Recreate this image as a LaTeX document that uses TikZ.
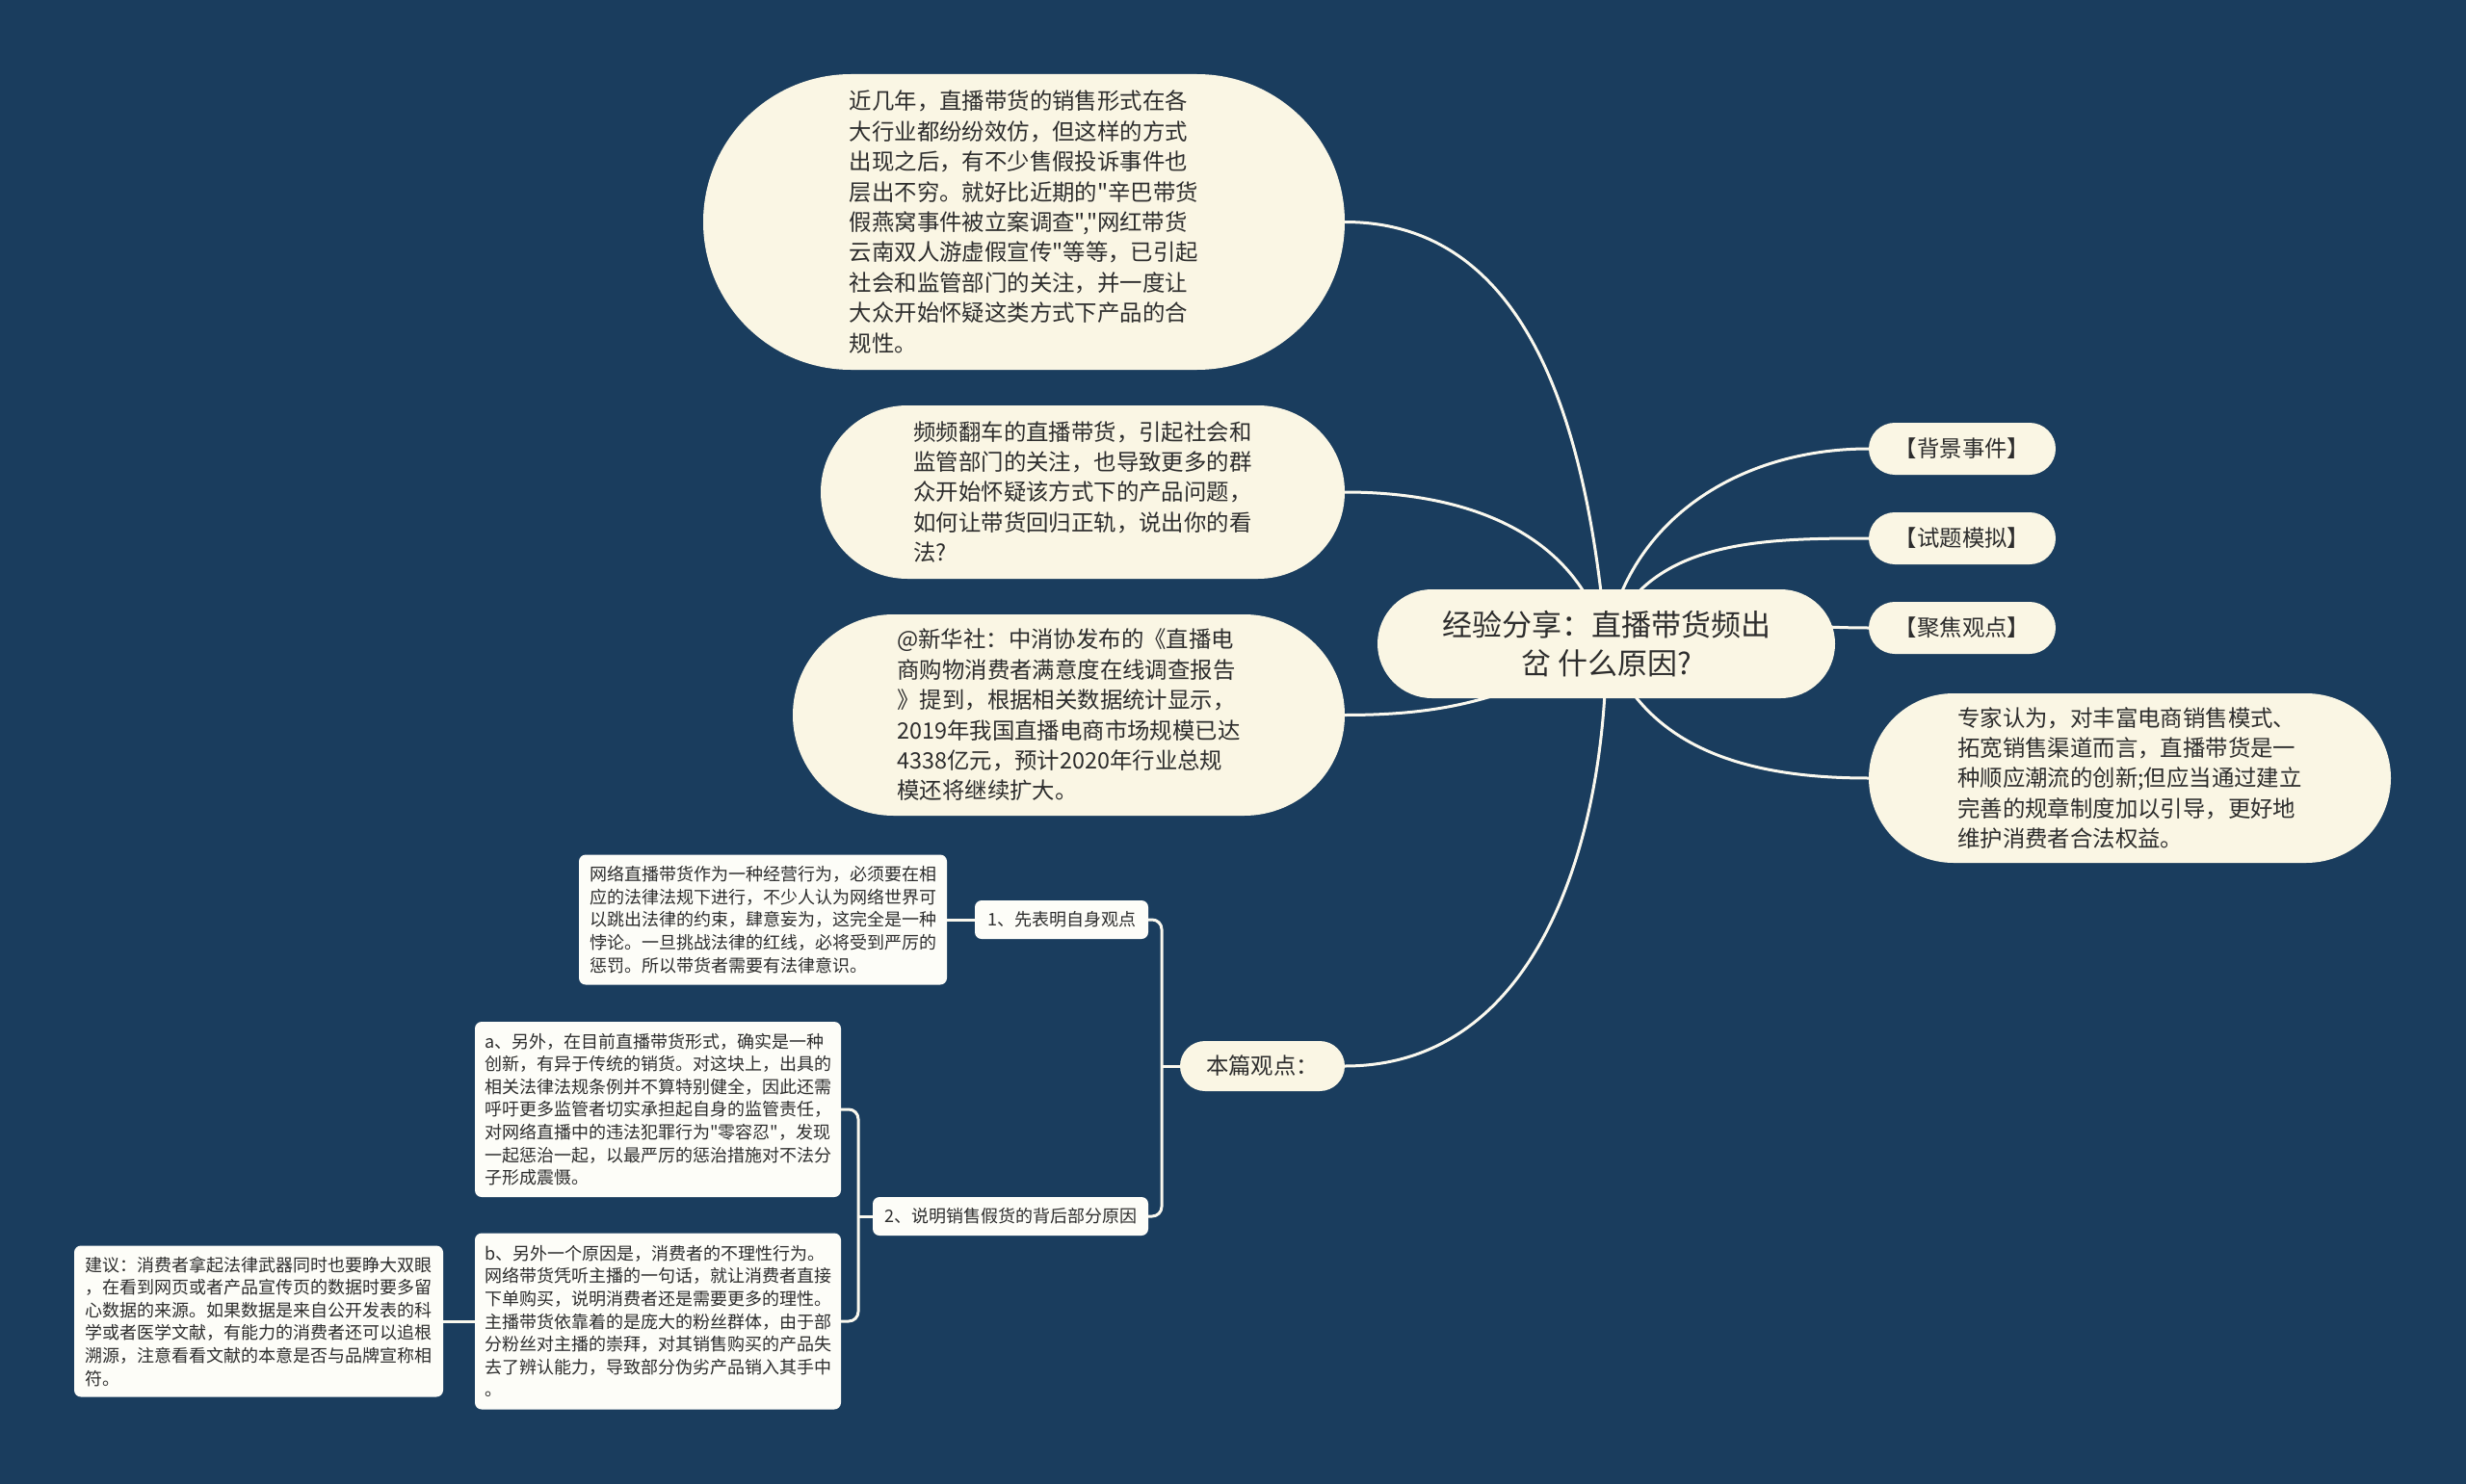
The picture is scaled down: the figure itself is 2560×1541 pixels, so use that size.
\documentclass[tikz,border=0pt]{standalone}
\usepackage{fontspec}
\newfontfamily\cjk{Noto Sans CJK SC}
\usetikzlibrary{shapes.misc}
\definecolor{navy}{RGB}{26,61,94}
\definecolor{cream}{RGB}{250,246,228}
\definecolor{paper}{RGB}{253,253,248}
\definecolor{ink}{RGB}{45,45,45}
\definecolor{wire}{RGB}{250,248,238}
\pgfdeclarelayer{backdrop}
\pgfdeclarelayer{links}
\pgfsetlayers{backdrop,links,main}
\tikzset{
  topic/.style={rounded rectangle,fill=cream,text=ink,inner sep=0pt,align=left,
    font=\cjk\fontsize{23.4}{31.4}\selectfont},
  leaf/.style={rectangle,rounded corners=7pt,fill=paper,text=ink,inner sep=0pt,align=left,
    font=\cjk\fontsize{18}{23.6}\selectfont},
  link/.style={draw=wire,line width=3pt},
}

\begin{document}
\begin{tikzpicture}[x=1pt,y=-1pt]
\begin{pgfonlayer}{backdrop}
\fill[navy] (0,0) rectangle (2560,1541);
\end{pgfonlayer}
\useasboundingbox (0,0) rectangle (2560,1541);

\node[topic,align=center,minimum width=475,minimum height=113,font=\cjk\fontsize{31}{40}\selectfont] (root) at (1667.5,668.5) {经验分享：直播带货频出\\岔 什么原因?};

\node[topic,minimum width=666,minimum height=307] (intro) at (1063,230.5) {近几年，直播带货的销售形式在各\\大行业都纷纷效仿，但这样的方式\\出现之后，有不少售假投诉事件也\\层出不穷。就好比近期的"辛巴带货\\假燕窝事件被立案调查","网红带货\\云南双人游虚假宣传"等等，已引起\\社会和监管部门的关注，并一度让\\大众开始怀疑这类方式下产品的合\\规性。};
\node[topic,minimum width=544,minimum height=180] (question) at (1124,511) {频频翻车的直播带货，引起社会和\\监管部门的关注，也导致更多的群\\众开始怀疑该方式下的产品问题，\\如何让带货回归正轨，说出你的看\\法?};
\node[topic,minimum width=573,minimum height=209] (xinhua) at (1109.5,742.5) {@新华社：中消协发布的《直播电\\商购物消费者满意度在线调查报告\\》提到，根据相关数据统计显示，\\2019年我国直播电商市场规模已达\\4338亿元，预计2020年行业总规\\模还将继续扩大。};

\node[topic,minimum width=194,minimum height=54] (event) at (2037,466) {【背景事件】};
\node[topic,minimum width=194,minimum height=54] (mock) at (2037,559) {【试题模拟】};
\node[topic,minimum width=194,minimum height=54] (focus) at (2037,652) {【聚焦观点】};
\node[topic,minimum width=542,minimum height=176] (expert) at (2211,808) {专家认为，对丰富电商销售模式、\\拓宽销售渠道而言，直播带货是一\\种顺应潮流的创新;但应当通过建立\\完善的规章制度加以引导，更好地\\维护消费者合法权益。};

\node[topic,minimum width=171,minimum height=52] (view) at (1310.5,1107) {本篇观点：};

\node[leaf,minimum width=180,minimum height=40] (one) at (1102,955) {1、先表明自身观点};
\node[leaf,minimum width=382,minimum height=135] (law) at (792,955) {网络直播带货作为一种经营行为，必须要在相\\应的法律法规下进行，不少人认为网络世界可\\以跳出法律的约束，肆意妄为，这完全是一种\\悖论。一旦挑战法律的红线，必将受到严厉的\\惩罚。所以带货者需要有法律意识。};
\node[leaf,minimum width=286,minimum height=40] (two) at (1049,1263) {2、说明销售假货的背后部分原因};
\node[leaf,minimum width=380,minimum height=182] (boxa) at (683,1152) {a、另外，在目前直播带货形式，确实是一种\\创新，有异于传统的销货。对这块上，出具的\\相关法律法规条例并不算特别健全，因此还需\\呼吁更多监管者切实承担起自身的监管责任，\\对网络直播中的违法犯罪行为"零容忍"，发现\\一起惩治一起，以最严厉的惩治措施对不法分\\子形成震慑。};
\node[leaf,minimum width=380,minimum height=183] (boxb) at (683,1372) {b、另外一个原因是，消费者的不理性行为。\\网络带货凭听主播的一句话，就让消费者直接\\下单购买，说明消费者还是需要更多的理性。\\主播带货依靠着的是庞大的粉丝群体，由于部\\分粉丝对主播的崇拜，对其销售购买的产品失\\去了辨认能力，导致部分伪劣产品销入其手中\\。};
\node[leaf,minimum width=383,minimum height=157] (advice) at (268.5,1372) {建议：消费者拿起法律武器同时也要睁大双眼\\，在看到网页或者产品宣传页的数据时要多留\\心数据的来源。如果数据是来自公开发表的科\\学或者医学文献，有能力的消费者还可以追根\\溯源，注意看看文献的本意是否与品牌宣称相\\符。};

\coordinate (spine) at (1206,1107);
\coordinate (fork) at (891,1263);

\begin{pgfonlayer}{links}
\draw[link] (root.center) to[out=95,in=0] (intro.east);
\draw[link] (root.center) to[out=105,in=0] (question.east);
\draw[link] (root.center) to[out=210,in=0] (xinhua.east);
\draw[link] (root.center) to[out=-90,in=0] (view.east);
\draw[link] (root.center) to[out=80,in=180] (event.west);
\draw[link] (root.center) to[out=70,in=180] (mock.west);
\draw[link] (root.center) to[out=20,in=180] (focus.west);
\draw[link] (root.center) to[out=-70,in=180] (expert.west);
\draw[link] (view.west) -- (spine);
\draw[link,rounded corners=10pt] (one.east) -| (spine) |- (two.east);
\draw[link] (one.west) -- (law.east);
\draw[link] (two.west) -- (fork);
\draw[link,rounded corners=10pt] (boxa.east) -| (fork) |- (boxb.east);
\draw[link] (boxb.west) -- (advice.east);
\end{pgfonlayer}
\end{tikzpicture}
\end{document}
